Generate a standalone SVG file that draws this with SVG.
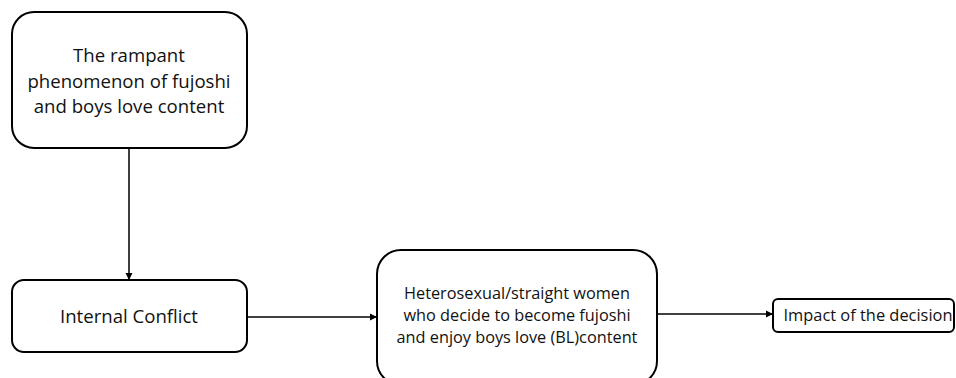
<svg xmlns="http://www.w3.org/2000/svg" width="956" height="378" viewBox="0 0 956 378">
<style>
.box{fill:#fff;stroke:#000;stroke-width:2}
.t{font-family:"Open Sans","Liberation Sans",sans-serif;fill:#111;text-anchor:middle}
.c{stroke:#000;stroke-width:1.5;fill:none;marker-end:url(#ah)}
</style>
<defs>
<marker id="ah" markerWidth="8" markerHeight="8" refX="7" refY="4" orient="auto" markerUnits="userSpaceOnUse">
<path d="M0,0.5 L7,4 L0,7.5 Z" fill="#000"/>
</marker>
</defs>
<rect width="956" height="378" fill="#fff"/>
<g id="connectors">
<line class="c" x1="129" y1="148" x2="129" y2="280"/>
<line class="c" x1="247" y1="317" x2="377" y2="317"/>
<line class="c" x1="657" y1="314" x2="773" y2="314"/>
</g>
<g id="node-phenomenon">
<rect class="box" x="12" y="12" width="235" height="136" rx="22"/>
<text class="t" font-size="18.6"><tspan x="129" y="62">The rampant</tspan><tspan x="129" y="87.5">phenomenon of fujoshi</tspan><tspan x="129" y="113">and boys love content</tspan></text>
</g>
<g id="node-conflict">
<rect class="box" x="12" y="280" width="235" height="72" rx="12"/>
<text class="t" font-size="18.6" x="129" y="323">Internal Conflict</text>
</g>
<g id="node-women">
<rect class="box" x="377" y="250" width="280" height="135" rx="24"/>
<text class="t" font-size="16.3"><tspan x="517" y="299">Heterosexual/straight women</tspan><tspan x="517" y="321">who decide to become fujoshi</tspan><tspan x="517" y="343">and enjoy boys love (BL)content</tspan></text>
</g>
<g id="node-impact">
<rect class="box" x="773" y="299" width="181" height="33" rx="5"/>
<text class="t" font-size="16.4" x="868" y="321">Impact of the decision</text>
</g>
</svg>
